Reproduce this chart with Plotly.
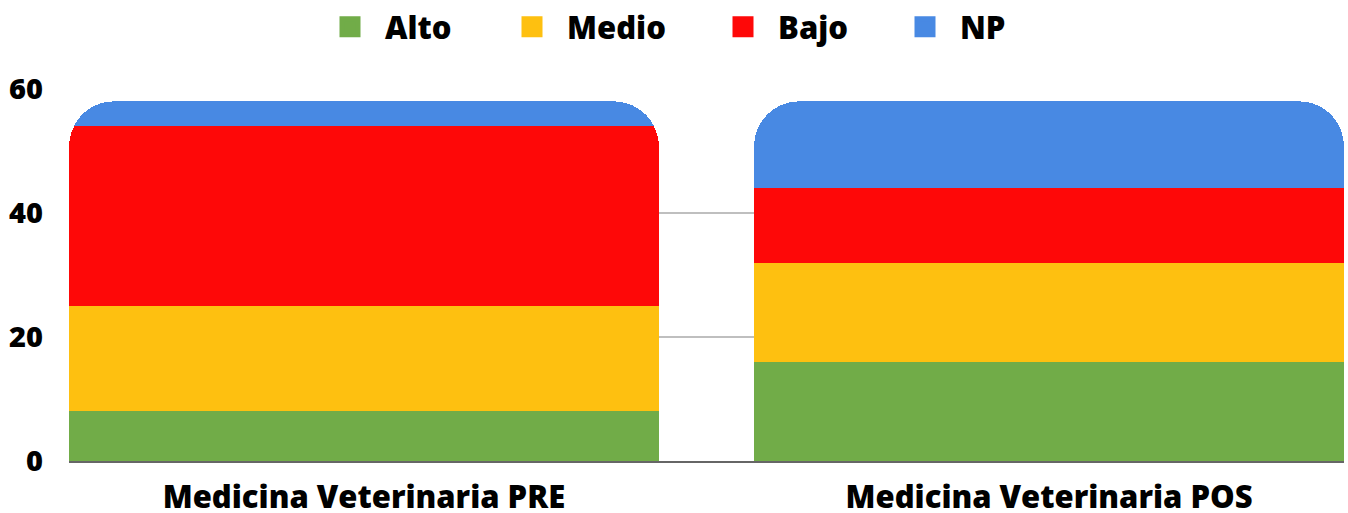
import plotly.graph_objects as go

categories = ["Medicina Veterinaria PRE", "Medicina Veterinaria POS"]
series_names = ["Alto", "Medio", "Bajo", "NP"]
alto = [8, 16]
medio = [17, 16]
bajo = [29, 12]
np_vals = [4, 14]
y_ticks = [0, 20, 40, 60]

values = [alto, medio, bajo, np_vals]
colors = ["#71AC48", "#FEC010", "#FE0808", "#4889E3"]
legend_text_x = [385, 567, 778, 960]  # where each legend label starts (px)

FONT = "Open Sans"
W, H = 1348, 513
ITEMW = 60
TEXT_GAP = ITEMW + 10

fig = go.Figure()
for name, vals, col in zip(series_names, values, colors):
    fig.add_trace(go.Bar(
        x=categories, y=vals, name=name,
        marker=dict(color=col, line=dict(width=0)),
        showlegend=False,
    ))
legend_layout = {}
for i, (name, col, lx) in enumerate(zip(series_names, colors, legend_text_x)):
    key = "legend" if i == 0 else f"legend{i+1}"
    fig.add_trace(go.Scatter(
        x=[None], y=[None], mode="markers", name=name,
        marker=dict(symbol="square", size=16, color=col,
                    line=dict(color=col, width=5)),
        showlegend=True, legend=key,
    ))
    legend_layout[key] = dict(
        orientation="h", xref="container", yref="container",
        x=(lx - TEXT_GAP) / W, xanchor="left", y=1.0, yanchor="top",
        itemwidth=ITEMW,
        font=dict(family=FONT, size=31, color="black", weight=800),
        bgcolor="rgba(0,0,0,0)", borderwidth=0,
    )

fig.update_layout(
    width=W, height=H,
    barmode="stack",
    bargap=0.139,
    barcornerradius=45,
    plot_bgcolor="white",
    paper_bgcolor="white",
    margin=dict(l=69, r=4, t=89, b=52, autoexpand=False),
    font=dict(family=FONT, size=30, color="black", weight=800),
    xaxis=dict(
        range=[-0.4305, 1.4305],
        showgrid=False,
        showline=True, linecolor="#666666", linewidth=2,
        tickfont=dict(family=FONT, size=31, color="black", weight=800),
        ticklabelstandoff=8,
        automargin=False,
    ),
    yaxis=dict(
        range=[0, 60],
        tickvals=y_ticks,
        showgrid=True, gridcolor="#BFBFBF", gridwidth=2,
        zeroline=False,
        tickfont=dict(family=FONT, size=29, color="black", weight=800),
        ticklabelstandoff=25,
        automargin=False,
    ),
    **legend_layout,
)

fig.write_html("out.html", config={"displayModeBar": False},
               post_script="document.body.style.margin='0';")
